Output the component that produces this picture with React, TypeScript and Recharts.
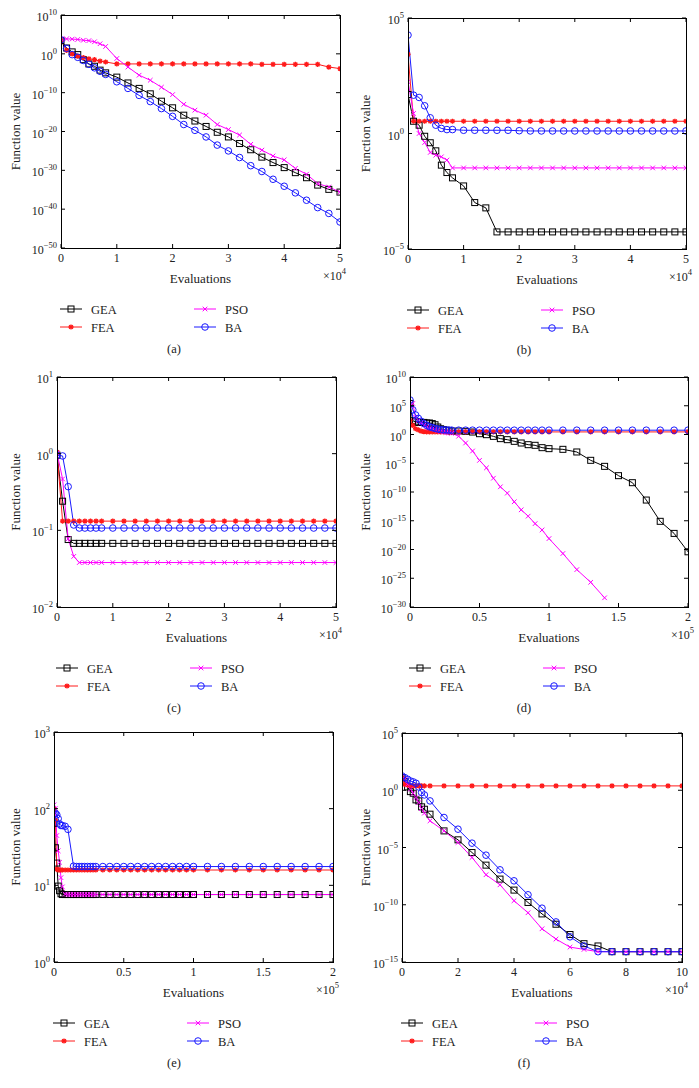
import React from 'react';
import { LineChart, Line, XAxis, YAxis } from 'recharts';

// Convergence curves, six test functions (a)-(f).
// x values are in the units printed on the axis (x10^4 or x10^5 evaluations),
// y values are log10 of the function value.

const FONT = '"Liberation Serif", "Times New Roman", serif';

const GEA_COLOR = '#000000';
const FEA_COLOR = '#ff1a1a';
const PSO_COLOR = '#ff00ff';
const BA_COLOR = '#1a1aff';

// ---- shared evaluation grids ----
const evalGrid5 = [0, 0.1, 0.2, 0.3, 0.4, 0.5, 0.6, 0.7, 0.8, 1, 1.2, 1.4, 1.6, 1.8, 2, 2.2, 2.4, 2.6, 2.8, 3, 3.2, 3.4, 3.6, 3.8, 4, 4.2, 4.4, 4.6, 4.8, 5];
const evalGridD = [0, 0.02, 0.04, 0.06, 0.08, 0.1, 0.12, 0.14, 0.16, 0.18, 0.2, 0.22, 0.24, 0.26, 0.28, 0.3, 0.35, 0.4, 0.45, 0.5, 0.55, 0.6, 0.65, 0.7, 0.75, 0.8, 0.85, 0.9, 0.95, 1, 1.1, 1.2, 1.3, 1.4, 1.5, 1.6, 1.7, 1.8, 1.9, 2];
const evalGridE = [0, 0.01, 0.02, 0.03, 0.04, 0.05, 0.06, 0.08, 0.1, 0.12, 0.14, 0.16, 0.18, 0.2, 0.22, 0.24, 0.26, 0.28, 0.3, 0.35, 0.4, 0.45, 0.5, 0.55, 0.6, 0.65, 0.7, 0.75, 0.8, 0.85, 0.9, 0.95, 1, 1.1, 1.2, 1.3, 1.4, 1.5, 1.6, 1.7, 1.8, 1.9, 2];
const evalGridEBA = [0, 0.01, 0.02, 0.03, 0.04, 0.05, 0.06, 0.08, 0.1, 0.14, 0.16, 0.18, 0.2, 0.22, 0.24, 0.26, 0.28, 0.3, 0.35, 0.4, 0.45, 0.5, 0.55, 0.6, 0.65, 0.7, 0.75, 0.8, 0.85, 0.9, 0.95, 1, 1.1, 1.2, 1.3, 1.4, 1.5, 1.6, 1.7, 1.8, 1.9, 2];
const evalGridF = [0, 0.1, 0.2, 0.3, 0.4, 0.5, 0.6, 0.7, 0.8, 1, 1.5, 2, 2.5, 3, 3.5, 4, 4.5, 5, 5.5, 6, 6.5, 7, 7.5, 8, 8.5, 9, 9.5, 10];

// ---- (a) ----
const aGEA = [3.4, 1.5, 0.5, -0.2, -1.5, -2.6, -3.2, -4.2, -4.9, -6, -7.5, -8.9, -10.3, -12.2, -13.9, -15.8, -17.3, -18.7, -20.2, -21.4, -23.1, -24.7, -26.6, -28, -29.3, -30.6, -31.9, -33.8, -34.9, -35.6];
const aFEA = [3.4, 0.9, 0, -0.6, -1, -1.3, -1.5, -1.9, -2.1, -2.6, -2.6, -2.6, -2.6, -2.6, -2.6, -2.6, -2.6, -2.6, -2.6, -2.6, -2.6, -2.6, -2.7, -2.7, -2.7, -2.7, -2.7, -2.7, -3.4, -3.8];
const aPSO = [3.85, 3.85, 3.8, 3.7, 3.5, 3.4, 3.1, 2.6, 1.9, -1.2, -3.4, -5.5, -6.8, -8.6, -10.5, -13, -14.5, -15.8, -18.2, -19.5, -20.9, -23.3, -24.8, -26.3, -27.3, -29.5, -31, -33.4, -34.3, -35.6];
const aBA = [3.6, 1.4, -0.2, -0.9, -1.7, -2.7, -3.6, -4.5, -5.3, -7.2, -8.9, -10.7, -12.3, -14.1, -16.1, -18.2, -19.7, -21.4, -23.5, -25, -26.7, -28.8, -30.3, -32.3, -34.1, -35.8, -37.7, -39.6, -41.1, -43.3];

// ---- (b) ----
const bGEA = [1.69, 0.53, 0.36, -0.12, -0.4, -0.75, -1.37, -1.69, -1.92, -2.27, -2.99, -3.22, -4.26, -4.26, -4.26, -4.26, -4.26, -4.26, -4.26, -4.26, -4.26, -4.26, -4.26, -4.26, -4.26, -4.26, -4.26, -4.26, -4.26, -4.26];
const bFEA = [3.43, 0.53, 0.53, 0.53, 0.53, 0.53, 0.53, 0.53, 0.53, 0.53, 0.53, 0.53, 0.53, 0.53, 0.53, 0.53, 0.53, 0.53, 0.53, 0.53, 0.53, 0.53, 0.53, 0.53, 0.53, 0.53, 0.53, 0.53, 0.53, 0.53];
const bPSO = [2.24, 0.87, 0, -0.39, -0.82, -0.94, -1.01, -1.15, -1.49, -1.49, -1.49, -1.49, -1.49, -1.49, -1.49, -1.49, -1.49, -1.49, -1.49, -1.49, -1.49, -1.49, -1.49, -1.49, -1.49, -1.49, -1.49, -1.49, -1.49, -1.49];
const bBA = [4.26, 1.66, 1.56, 1.2, 0.68, 0.36, 0.22, 0.17, 0.17, 0.14, 0.14, 0.14, 0.14, 0.14, 0.12, 0.11, 0.11, 0.11, 0.11, 0.11, 0.11, 0.11, 0.11, 0.11, 0.11, 0.11, 0.11, 0.11, 0.11, 0.11];

// ---- (c) ----
const cGEA = [-0.02, -0.62, -1.12, -1.17, -1.17, -1.17, -1.17, -1.17, -1.17, -1.17, -1.17, -1.17, -1.17, -1.17, -1.17, -1.17, -1.17, -1.17, -1.17, -1.17, -1.17, -1.17, -1.17, -1.17, -1.17, -1.17, -1.17, -1.17, -1.17, -1.17];
const cFEA = [0.02, -0.88, -0.88, -0.88, -0.88, -0.88, -0.88, -0.88, -0.88, -0.88, -0.88, -0.88, -0.88, -0.88, -0.88, -0.88, -0.88, -0.88, -0.88, -0.88, -0.88, -0.88, -0.88, -0.88, -0.88, -0.88, -0.88, -0.88, -0.88, -0.88];
const cPSO = [0.01, -0.33, -1.11, -1.34, -1.42, -1.42, -1.42, -1.42, -1.42, -1.42, -1.42, -1.42, -1.42, -1.42, -1.42, -1.42, -1.42, -1.42, -1.42, -1.42, -1.42, -1.42, -1.42, -1.42, -1.42, -1.42, -1.42, -1.42, -1.42, -1.42];
const cBA = [-0.02, -0.03, -0.43, -0.93, -0.97, -0.97, -0.97, -0.97, -0.97, -0.97, -0.97, -0.97, -0.97, -0.97, -0.97, -0.97, -0.97, -0.97, -0.97, -0.97, -0.97, -0.97, -0.97, -0.97, -0.97, -0.97, -0.97, -0.97, -0.97, -0.97];

// ---- (d) ----
const dGEA = [5.4, 2.4, 2.2, 2.1, 2.1, 2.1, 2.0, 2.0, 1.9, 1.7, 1.3, 1.0, 0.85, 0.75, 0.65, 0.6, 0.6, 0.55, 0.43, 0.14, -0.03, -0.32, -0.72, -0.9, -1.19, -1.48, -1.77, -1.88, -2.29, -2.46, -2.58, -3.04, -4.49, -5.54, -7.16, -8.38, -11.4, -15.1, -17.2, -20.4];
const dFEA = [2.4, 1.6, 1.0, 0.8, 0.6, 0.5, 0.45, 0.45, 0.45, 0.45, 0.45, 0.45, 0.45, 0.45, 0.45, 0.45, 0.45, 0.45, 0.45, 0.45, 0.45, 0.45, 0.45, 0.45, 0.45, 0.45, 0.45, 0.45, 0.45, 0.45, 0.45, 0.45, 0.45, 0.45, 0.45, 0.45, 0.45, 0.45, 0.45, 0.45];
const dPSO = [5.0, 5.4, 3.0, 2.4, 2.0, 1.6, 1.3, 1.1, 1.0, 0.9, 0.7, 0.55, 0.45, 0.35, 0.3, 0.2, -0.3, -1.48, -2.87, -4.5, -5.8, -7.6, -9.1, -10.2, -11.7, -13.1, -14.2, -15.5, -16.6, -18.1, -20.7, -23.5, -25.7, -28.4];
const dBA = [6.0, 4.3, 3.4, 2.8, 2.3, 1.9, 1.6, 1.35, 1.2, 1.05, 0.95, 0.85, 0.8, 0.78, 0.76, 0.75, 0.75, 0.75, 0.75, 0.75, 0.75, 0.75, 0.75, 0.75, 0.75, 0.75, 0.75, 0.75, 0.75, 0.75, 0.75, 0.75, 0.75, 0.75, 0.75, 0.75, 0.75, 0.75, 0.75, 0.75];

// ---- (e) ----
const eGEA = [1.81, 1.49, 1.29, 0.99, 0.93, 0.89, 0.88, 0.88, 0.88, 0.88, 0.88, 0.88, 0.88, 0.88, 0.88, 0.88, 0.88, 0.88, 0.88, 0.88, 0.88, 0.88, 0.88, 0.88, 0.88, 0.88, 0.88, 0.88, 0.88, 0.88, 0.88, 0.88, 0.88, 0.88, 0.88, 0.88, 0.88, 0.88, 0.88, 0.88, 0.88, 0.88, 0.88];
const eFEA = [2.0, 1.85, 1.21, 1.2, 1.2, 1.2, 1.2, 1.2, 1.2, 1.2, 1.2, 1.2, 1.2, 1.2, 1.2, 1.2, 1.2, 1.2, 1.2, 1.2, 1.2, 1.2, 1.2, 1.2, 1.2, 1.2, 1.2, 1.2, 1.2, 1.2, 1.2, 1.2, 1.2, 1.2, 1.2, 1.2, 1.2, 1.2, 1.2, 1.2, 1.2, 1.2, 1.2];
const ePSO = [2.05, 2.0, 1.65, 1.45, 1.3, 1.1, 0.98, 0.885, 0.88, 0.88, 0.88, 0.88, 0.88, 0.88, 0.88, 0.88, 0.88, 0.88, 0.88, 0.88, 0.88, 0.88, 0.88, 0.88, 0.88, 0.88, 0.88, 0.88, 0.88, 0.88, 0.88, 0.88, 0.88, 0.88, 0.88, 0.88, 0.88, 0.88, 0.88, 0.88, 0.88, 0.88, 0.88];
const eBA = [1.93, 1.94, 1.92, 1.87, 1.8, 1.78, 1.78, 1.77, 1.73, 1.25, 1.245, 1.245, 1.245, 1.245, 1.245, 1.245, 1.245, 1.245, 1.245, 1.245, 1.245, 1.245, 1.245, 1.245, 1.245, 1.245, 1.245, 1.245, 1.245, 1.245, 1.245, 1.245, 1.245, 1.245, 1.245, 1.245, 1.245, 1.245, 1.245, 1.245, 1.245, 1.245];

// ---- (f) ----
const fGEA = [1.1, 0.73, 0.29, -0.12, -0.26, -0.84, -0.93, -1.45, -1.66, -2.09, -3.55, -4.33, -5.44, -6.54, -7.76, -8.72, -9.8, -10.8, -11.7, -12.6, -13.4, -13.6, -14.1, -14.1, -14.1, -14.1, -14.1, -14.1];
const fFEA = [1.1, 0.52, 0.44, 0.4, 0.38, 0.38, 0.38, 0.38, 0.38, 0.38, 0.38, 0.38, 0.38, 0.38, 0.38, 0.38, 0.38, 0.38, 0.38, 0.38, 0.38, 0.38, 0.38, 0.38, 0.38, 0.38, 0.38, 0.38];
const fPSO = [1.19, 0.95, 0.52, 0.09, -0.26, -0.64, -1.08, -1.6, -2.0, -2.67, -3.55, -4.56, -5.87, -7.38, -8.26, -9.65, -10.7, -12.1, -13.0, -13.7, -13.9, -14.1, -14.1, -14.1, -14.1, -14.1, -14.1, -14.1];
const fBA = [1.25, 1.1, 0.96, 0.81, 0.73, 0.61, 0.29, -0.2, -0.41, -0.93, -2.38, -3.4, -4.62, -5.67, -6.95, -7.91, -9.13, -10.3, -11.5, -12.8, -13.6, -14.1, -14.1, -14.1, -14.1, -14.1, -14.1, -14.1];

// ---- axis ticks ----
const ticks5 = [0, 1, 2, 3, 4, 5];
const ticks2 = [0, 0.5, 1, 1.5, 2];
const ticks10 = [0, 2, 4, 6, 8, 10];
const aYTicks = [-50, -40, -30, -20, -10, 0, 10];
const bYTicks = [-5, 0, 5];
const cYTicks = [-2, -1, 0, 1];
const dYTicks = [-30, -25, -20, -15, -10, -5, 0, 5, 10];
const eYTicks = [0, 1, 2, 3];
const fYTicks = [-15, -10, -5, 0, 5];

type MarkerKind = 'square' | 'star' | 'cross' | 'circle';

interface SeriesDef {
  name: string;
  color: string;
  marker: MarkerKind;
  x: number[];
  logY: number[];
}

interface PanelDef {
  caption: string;
  ox: number;
  oy: number;
  w: number;
  h: number;
  left: number;
  right: number;
  top: number;
  bottom: number;
  xMax: number;
  xTicks: number[];
  xPow: number;
  yTicks: number[];
  series: SeriesDef[];
}

const Y_AXIS_W = 40;
const X_AXIS_H = 20;

const Marker = ({ kind, cx, cy, color }: { kind: MarkerKind; cx: number; cy: number; color: string }) => {
  if (cx == null || cy == null) return null;
  switch (kind) {
    case 'square':
      return <rect x={cx - 3} y={cy - 3} width={6} height={6} fill="none" stroke={color} strokeWidth={1} />;
    case 'circle':
      return <circle cx={cx} cy={cy} r={3.3} fill="none" stroke={color} strokeWidth={1} />;
    case 'cross':
      return (
        <path
          d={`M${cx - 2.3},${cy - 2.3}L${cx + 2.3},${cy + 2.3}M${cx - 2.3},${cy + 2.3}L${cx + 2.3},${cy - 2.3}`}
          stroke={color}
          strokeWidth={1}
        />
      );
    default:
      return (
        <path
          d={`M${cx - 2.6},${cy}L${cx + 2.6},${cy}M${cx},${cy - 2.6}L${cx},${cy + 2.6}M${cx - 1.9},${cy - 1.9}L${cx + 1.9},${cy + 1.9}M${cx - 1.9},${cy + 1.9}L${cx + 1.9},${cy - 1.9}`}
          stroke={color}
          strokeWidth={1.3}
        />
      );
  }
};

const sup = (e: number) => (e < 0 ? `\u2212${-e}` : `${e}`);

const makeSeries = (
  gea: [number[], number[]],
  fea: [number[], number[]],
  pso: [number[], number[]],
  ba: [number[], number[]]
): SeriesDef[] => [
  { name: 'GEA', color: GEA_COLOR, marker: 'square', x: gea[0], logY: gea[1] },
  { name: 'FEA', color: FEA_COLOR, marker: 'star', x: fea[0], logY: fea[1] },
  { name: 'PSO', color: PSO_COLOR, marker: 'cross', x: pso[0], logY: pso[1] },
  { name: 'BA', color: BA_COLOR, marker: 'circle', x: ba[0], logY: ba[1] },
];

const panels: PanelDef[] = [
  {
    caption: '(a)', ox: 0, oy: 0, w: 349, h: 360, left: 61, right: 340, top: 15, bottom: 248,
    xMax: 5, xTicks: ticks5, xPow: 4, yTicks: aYTicks,
    series: makeSeries([evalGrid5, aGEA], [evalGrid5, aFEA], [evalGrid5, aPSO], [evalGrid5, aBA]),
  },
  {
    caption: '(b)', ox: 350, oy: 0, w: 349, h: 360, left: 408, right: 686, top: 18, bottom: 249,
    xMax: 5, xTicks: ticks5, xPow: 4, yTicks: bYTicks,
    series: makeSeries([evalGrid5, bGEA], [evalGrid5, bFEA], [evalGrid5, bPSO], [evalGrid5, bBA]),
  },
  {
    caption: '(c)', ox: 0, oy: 360, w: 349, h: 360, left: 57, right: 336, top: 377, bottom: 607,
    xMax: 5, xTicks: ticks5, xPow: 4, yTicks: cYTicks,
    series: makeSeries([evalGrid5, cGEA], [evalGrid5, cFEA], [evalGrid5, cPSO], [evalGrid5, cBA]),
  },
  {
    caption: '(d)', ox: 350, oy: 360, w: 349, h: 360, left: 410, right: 688, top: 377, bottom: 607,
    xMax: 2, xTicks: ticks2, xPow: 5, yTicks: dYTicks,
    series: makeSeries([evalGridD, dGEA], [evalGridD, dFEA], [evalGridD, dPSO], [evalGridD, dBA]),
  },
  {
    caption: '(e)', ox: 0, oy: 720, w: 349, h: 368, left: 54, right: 333, top: 732, bottom: 962,
    xMax: 2, xTicks: ticks2, xPow: 5, yTicks: eYTicks,
    series: makeSeries([evalGridE, eGEA], [evalGridE, eFEA], [evalGridE, ePSO], [evalGridEBA, eBA]),
  },
  {
    caption: '(f)', ox: 350, oy: 720, w: 349, h: 368, left: 402, right: 682, top: 733, bottom: 962,
    xMax: 10, xTicks: ticks10, xPow: 4, yTicks: fYTicks,
    series: makeSeries([evalGridF, fGEA], [evalGridF, fFEA], [evalGridF, fPSO], [evalGridF, fBA]),
  },
];

const Panel = ({ p }: { p: PanelDef }) => {
  const L = p.left - p.ox;
  const R = p.right - p.ox;
  const T = p.top - p.oy;
  const B = p.bottom - p.oy;
  const yMin = p.yTicks[0];
  const yMax = p.yTicks[p.yTicks.length - 1];

  const renderXTick = (props: any) => {
    const { x, payload } = props;
    return (
      <g key={`xt-${payload.value}`}>
        <line x1={x} x2={x} y1={B} y2={B - 4} stroke="#000" />
        <line x1={x} x2={x} y1={T} y2={T + 4} stroke="#000" />
        <text x={x} y={B + 14} textAnchor="middle" fontSize={12} fontFamily={FONT} fill="#222">
          {payload.value}
        </text>
      </g>
    );
  };

  const renderYTick = (props: any) => {
    const { y, payload } = props;
    const e = Math.round(Math.log10(payload.value));
    return (
      <g key={`yt-${e}`}>
        <line x1={L} x2={L + 4} y1={y} y2={y} stroke="#000" />
        <line x1={R} x2={R - 4} y1={y} y2={y} stroke="#000" />
        <text x={L - 4} y={y + 6} textAnchor="end" fontSize={12} fontFamily={FONT} fill="#222">
          <tspan>10</tspan>
          <tspan dy={-6} fontSize={8.5}>{sup(e)}</tspan>
        </text>
      </g>
    );
  };

  const legendCols = [L - 1, L + 133];
  const legendRows = [B + 61, B + 79];

  return (
    <div style={{ position: 'absolute', left: p.ox, top: p.oy, width: p.w, height: p.h }}>
      <LineChart
        width={p.w}
        height={p.h}
        margin={{ top: T, left: L - Y_AXIS_W, right: p.w - R, bottom: p.h - B - X_AXIS_H }}
      >
        <XAxis
          type="number"
          dataKey="x"
          domain={[0, p.xMax]}
          ticks={p.xTicks}
          interval={0}
          height={X_AXIS_H}
          axisLine={false}
          tickLine={false}
          tick={renderXTick}
          allowDataOverflow
        />
        <YAxis
          type="number"
          scale="log"
          domain={[10 ** yMin, 10 ** yMax]}
          ticks={p.yTicks.map((e) => 10 ** e)}
          interval={0}
          width={Y_AXIS_W}
          axisLine={false}
          tickLine={false}
          tick={renderYTick}
          allowDataOverflow
        />
        {p.series.map((s) => (
          <Line
            key={s.name}
            data={s.logY.map((v, i) => ({ x: s.x[i], y: 10 ** v }))}
            dataKey="y"
            type="linear"
            stroke={s.color}
            strokeWidth={1}
            dot={(d: any) => (
              <Marker key={`${s.name}-${d.index}`} kind={s.marker} cx={d.cx} cy={d.cy} color={s.color} />
            )}
            activeDot={false}
            isAnimationActive={false}
          />
        ))}
      </LineChart>
      <svg
        width={p.w}
        height={p.h}
        style={{ position: 'absolute', left: 0, top: 0, pointerEvents: 'none' }}
        fontFamily={FONT}
      >
        <rect x={L + 0.5} y={T + 0.5} width={R - L} height={B - T} fill="none" stroke="#000" strokeWidth={1} />
        <text
          transform={`translate(${15}, ${(T + B) / 2}) rotate(-90)`}
          textAnchor="middle"
          dominantBaseline="central"
          fontSize={13}
          fill="#222"
        >
          Function value
        </text>
        <text x={(L + R) / 2} y={B + 35} textAnchor="middle" fontSize={13} fill="#222">
          Evaluations
        </text>
        <text x={R + 6} y={B + 32} textAnchor="end" fontSize={12} fill="#222">
          <tspan>{'\u00d710'}</tspan>
          <tspan dy={-6} fontSize={8.5}>{p.xPow}</tspan>
        </text>
        {p.series.map((s, i) => {
          const lx = legendCols[Math.floor(i / 2)];
          const ly = legendRows[i % 2];
          return (
            <g key={s.name}>
              <line x1={lx} x2={lx + 22} y1={ly} y2={ly} stroke={s.color} strokeWidth={1} />
              <Marker kind={s.marker} cx={lx + 11} cy={ly} color={s.color} />
              <text x={lx + 31} y={ly + 4.5} fontSize={12.5} fill="#222">
                {s.name}
              </text>
            </g>
          );
        })}
        <text x={174} y={B + 105} textAnchor="middle" fontSize={12.5} fill="#222">
          {p.caption}
        </text>
      </svg>
    </div>
  );
};

export default function App() {
  return (
    <div style={{ position: 'absolute', left: 0, top: 0, width: 699, height: 1088, background: '#fff' }}>
      {panels.map((p) => (
        <Panel key={p.caption} p={p} />
      ))}
    </div>
  );
}
